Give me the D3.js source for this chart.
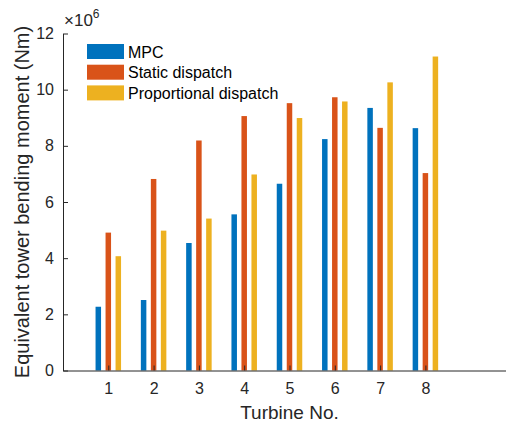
<!DOCTYPE html>
<html>
<head>
<meta charset="utf-8">
<script src="https://cdn.jsdelivr.net/npm/d3@7"></script>
<style>
  body { margin: 0; background: #fff; }
  svg { display: block; font-family: "Liberation Sans", Arial, sans-serif; }
</style>
</head>
<body>
<div id="chart"></div>
<script>
const turbines = [1, 2, 3, 4, 5, 6, 7, 8];
const seriesNames = ["MPC", "Static dispatch", "Proportional dispatch"];
const seriesColors = ["#0072BD", "#D95319", "#EDB120"];
// values in units of 1e6 Nm
const mpc = [2.27, 2.51, 4.54, 5.56, 6.65, 8.24, 9.35, 8.63];
const staticDispatch = [4.91, 6.82, 8.19, 9.06, 9.52, 9.73, 8.64, 7.03];
const proportional = [4.07, 4.98, 5.41, 6.98, 8.99, 9.58, 10.26, 11.18];
const yTicks = [0, 2, 4, 6, 8, 10, 12];

const W = 506, H = 423;
const margin = { left: 63, right: 516, top: 33.5, bottom: 370.5 };

const svg = d3.select("#chart").append("svg")
    .attr("width", W)
    .attr("height", H);

const x = d3.scaleLinear().domain([0, 10]).range([margin.left, margin.right]);
const y = d3.scaleLinear().domain([0, 12]).range([margin.bottom, margin.top]);
const inner = d3.scaleBand()
    .domain(seriesNames)
    .range([-15, 15])
    .paddingInner(0.45)
    .paddingOuter(0.225);

const allSeries = [mpc, staticDispatch, proportional];
const bars = [];
turbines.forEach((t, i) => {
    seriesNames.forEach((s, j) => {
        bars.push({ turbine: t, series: s, color: seriesColors[j], value: allSeries[j][i] });
    });
});

svg.append("g")
    .selectAll("rect")
    .data(bars)
    .enter()
    .append("rect")
    .attr("x", d => x(d.turbine) + inner(d.series))
    .attr("width", inner.bandwidth())
    .attr("y", d => y(d.value))
    .attr("height", d => y(0) - y(d.value))
    .attr("fill", d => d.color);

// axes, ticks pointing inward like matlab
const xAxis = svg.append("g")
    .attr("transform", "translate(0," + margin.bottom + ")")
    .call(d3.axisBottom(x).tickValues(turbines).tickSize(-5).tickPadding(12).tickSizeOuter(0));
const yAxis = svg.append("g")
    .attr("transform", "translate(" + margin.left + ",0)")
    .call(d3.axisLeft(y).tickValues(yTicks).tickSize(-5).tickPadding(9).tickSizeOuter(0));

[xAxis, yAxis].forEach(a => {
    a.select(".domain").attr("stroke", "#262626").attr("stroke-width", 1);
    a.selectAll(".tick line").attr("stroke", "#262626");
    a.selectAll(".tick text")
        .attr("fill", "#262626")
        .style("font-size", "16px")
        .style("font-family", "'Liberation Sans', Arial, sans-serif");
});

// exponent
const expo = svg.append("text")
    .attr("x", 64)
    .attr("y", 25.5)
    .attr("fill", "#262626")
    .style("font-size", "17px");
expo.append("tspan").text("\u00d710");
expo.append("tspan").attr("dy", -7.5).style("font-size", "12px").text("6");

// axis labels
svg.append("text")
    .attr("x", (margin.left + margin.right) / 2)
    .attr("y", 419)
    .attr("text-anchor", "middle")
    .attr("fill", "#262626")
    .style("font-size", "19px")
    .text("Turbine No.");

svg.append("text")
    .attr("transform", "rotate(-90)")
    .attr("x", -(margin.top + margin.bottom) / 2)
    .attr("y", 29)
    .attr("text-anchor", "middle")
    .attr("fill", "#262626")
    .style("font-size", "20px")
    .text("Equivalent tower bending moment (Nm)");

// legend
const legend = svg.append("g")
    .attr("transform", "translate(87,44)");
const item = legend.selectAll("g")
    .data(seriesNames)
    .enter()
    .append("g")
    .attr("transform", (d, i) => "translate(0," + i * 20.7 + ")");
item.append("rect")
    .attr("width", 37)
    .attr("height", 15)
    .attr("fill", (d, i) => seriesColors[i]);
item.append("text")
    .attr("x", 41)
    .attr("y", 13.5)
    .attr("fill", "#000")
    .style("font-size", "16px")
    .text(d => d);
</script>
</body>
</html>
